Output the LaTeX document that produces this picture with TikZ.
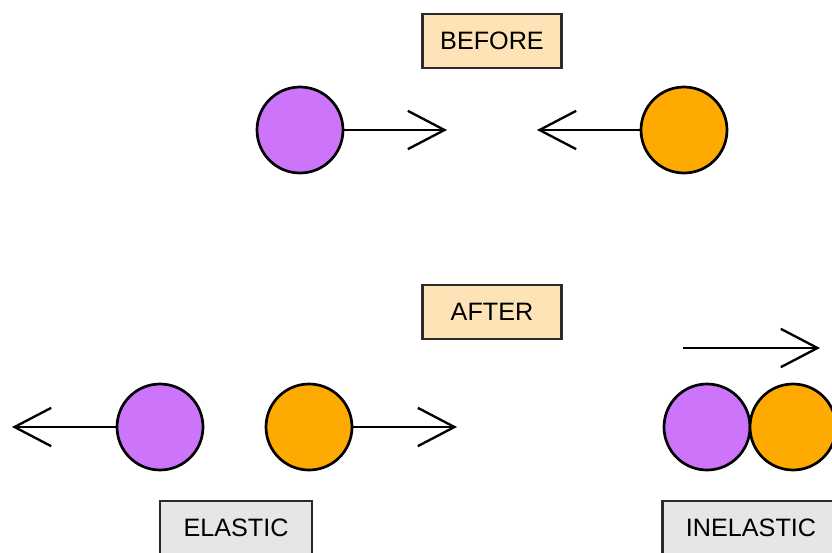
\documentclass[tikz,border=0pt]{standalone}
\usepackage{fontspec}
\setmainfont{Liberation Sans}
\usepackage{tikz}
\usetikzlibrary{arrows.meta, positioning}

\definecolor{ballpurple}{HTML}{CC74FA}
\definecolor{ballorange}{HTML}{FFAA00}
\definecolor{peach}{HTML}{FDE3B6}
\definecolor{lightgrey}{HTML}{E6E6E6}
\definecolor{boxline}{HTML}{2A2A2A}

\begin{document}
\begin{tikzpicture}[x=0.03cm, y=-0.03cm,
    ball/.style={circle, draw=black, line width=2.3pt, minimum size=2.58cm, inner sep=0pt},
    pball/.style={ball, fill=ballpurple},
    oball/.style={ball, fill=ballorange},
    tag/.style={draw=boxline, line width=2pt, inner sep=0pt, minimum height=1.62cm,
                font=\fontsize{21.5}{25}\selectfont},
    velo/.style={line width=2pt, -{Straight Barb[length=11mm, width=11.5mm]}}]
    \clip (0,0) rectangle (832,552);
    \fill[white] (0,0) rectangle (832,552);

    % before the collision
    \node[tag, fill=peach, minimum width=4.17cm] (before) at (492,41) {BEFORE};
    \node[pball] (p1) at (300,130) {};
    \node[oball] (o1) at (684,130) {};
    \coordinate (p1tip) at (447,130);
    \coordinate (o1tip) at (537,130);
    \draw[velo] (p1.east) -- (p1tip);
    \draw[velo] (o1.west) -- (o1tip);

    % after the collision
    \node[tag, fill=peach, minimum width=4.17cm] (after) at (492,312) {AFTER};

    % elastic
    \node[pball] (p2) at (160,427) {};
    \node[oball] (o2) at (309,427) {};
    \coordinate (p2tip) at (12,427);
    \coordinate (o2tip) at (457,427);
    \draw[velo] (p2.west) -- (p2tip);
    \draw[velo] (o2.east) -- (o2tip);
    \node[tag, fill=lightgrey, minimum width=4.56cm] (elastic) at (236,528) {ELASTIC};

    % inelastic
    \node[pball] (p3) at (707,427) {};
    \node[oball] (o3) at (793,427) {};
    \coordinate (p3tail) at (683,348);
    \coordinate (p3tip) at (820,348);
    \draw[velo] (p3tail) -- (p3tip);
    \node[tag, fill=lightgrey, minimum width=5.3cm] (inelastic) at (751,528) {INELASTIC};
\end{tikzpicture}
\end{document}
